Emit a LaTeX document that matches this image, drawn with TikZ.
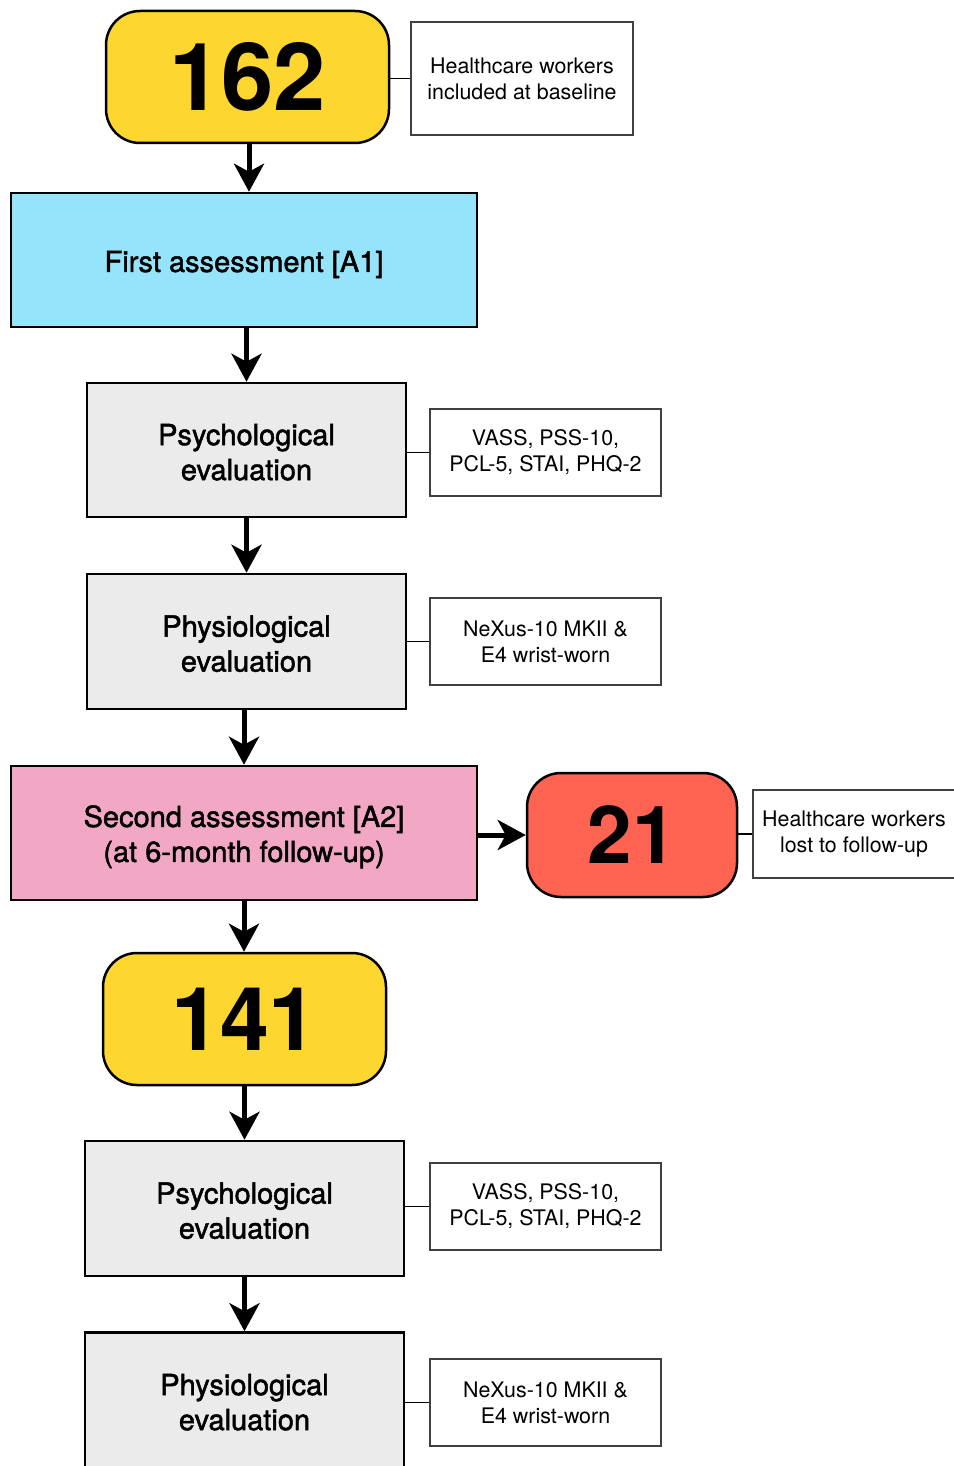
\documentclass[tikz,border=0pt]{standalone}
\usepackage{fontspec}
\setmainfont{TeX Gyre Heros}
\newfontfamily\medfont[FakeBold=1.6]{TeX Gyre Heros}
\usetikzlibrary{arrows.meta,calc}
\definecolor{yel}{HTML}{FED630}
\definecolor{blu}{HTML}{96E4FB}
\definecolor{gry}{HTML}{EBEBEB}
\definecolor{pnk}{HTML}{F2A8C4}
\definecolor{rd}{HTML}{FF6352}
\newcommand\pdn[1]{\rule{0pt}{#1}}
\tikzset{
  mainbox/.style={draw=black, line width=1.25pt, inner sep=0pt, align=center,
    font=\medfont\fontsize{14.5}{17.5}\selectfont},
  numbox/.style={draw=black, line width=1.25pt, inner sep=0pt, rounded corners=17pt,
    fill=yel, minimum width=141.5pt, minimum height=66pt, font=\bfseries\fontsize{47}{50}\selectfont},
  graybox/.style={mainbox, fill=gry, minimum width=159.5pt, minimum height=67pt},
  wide/.style={mainbox, minimum width=233pt, minimum height=67pt},
  lbl/.style={draw=black!75, line width=0.6pt, fill=white, inner sep=0pt, align=center,
    minimum width=115.5pt, minimum height=43.5pt, font=\fontsize{10.7}{13}\selectfont},
  arr/.style={line width=2.5pt, -{Stealth[length=14pt,width=15pt,inset=4pt]}},
  link/.style={line width=0.9pt, black}
}
\begin{document}
\begin{tikzpicture}[x=0.5pt,y=-0.5pt]
\useasboundingbox (0,0) rectangle (953,1466);
\node[numbox] (n162) at (247.5,77) {162};
\node[lbl, minimum width=111pt, minimum height=56.5pt] (l162) at (522,78.5) {Healthcare workers\\included at baseline};
\node[wide, fill=blu] (a1) at (244,260) {\pdn{15pt}First assessment [A1]};
\node[graybox] (psy1) at (246.5,450) {\pdn{12.8pt}Psychological\\evaluation};
\node[lbl] (lpsy1) at (545.5,452.5) {VASS, PSS-10,\\PCL-5, STAI, PHQ-2};
\node[graybox, minimum height=67.5pt] (phy1) at (246.5,641.5) {\pdn{12.8pt}Physiological\\evaluation};
\node[lbl] (lphy1) at (545.5,641.5) {NeXus-10 MKII \&\\E4 wrist-worn};
\node[wide, fill=pnk] (a2) at (244,833) {\pdn{14.6pt}Second assessment [A2]\\(at 6-month follow-up)};
\node[numbox, fill=rd, minimum width=105pt, minimum height=62pt, font=\bfseries\fontsize{40}{43}\selectfont] (n21) at (632,835) {21};
\node[lbl, minimum width=101pt, minimum height=44pt] (l21) at (854,834) {Healthcare workers\\lost to follow-up};
\node[numbox, font=\bfseries\fontsize{44}{47}\selectfont] (n141) at (244.5,1019) {141};
\node[graybox, minimum height=67.5pt] (psy2) at (244.5,1208.5) {\pdn{12.8pt}Psychological\\evaluation};
\node[lbl] (lpsy2) at (545.5,1206.5) {VASS, PSS-10,\\PCL-5, STAI, PHQ-2};
\node[graybox, minimum height=67.5pt] (phy2) at (244.5,1400) {\pdn{12.8pt}Physiological\\evaluation};
\node[lbl] (lphy2) at (545.5,1402.5) {NeXus-10 MKII \&\\E4 wrist-worn};
% connectors
\draw[link] (n162.east |- l162.west) -- (l162.west);
\draw[link] (psy1.east |- lpsy1.west) -- (lpsy1.west);
\draw[link] (phy1.east |- lphy1.west) -- (lphy1.west);
\draw[link] (n21.east |- l21.west) -- (l21.west);
\draw[link] (psy2.east |- lpsy2.west) -- (lpsy2.west);
\draw[link] (phy2.east |- lphy2.west) -- (lphy2.west);
% arrows
\draw[arr] ($(n162.south)+(1.5,0)$) -- ($(n162.south |- a1.north)+(1.5,0)$);
\draw[arr] (psy1.north |- a1.south) -- (psy1.north);
\draw[arr] (psy1.south) -- (phy1.north);
\draw[arr] (a2.north |- phy1.south) -- (a2.north);
\draw[arr] (a2.east |- n21.west) -- (n21.west);
\draw[arr] (a2.south) -- (a2.south |- n141.north);
\draw[arr] (n141.south) -- (psy2.north);
\draw[arr] (psy2.south) -- (phy2.north);
\end{tikzpicture}
\end{document}
